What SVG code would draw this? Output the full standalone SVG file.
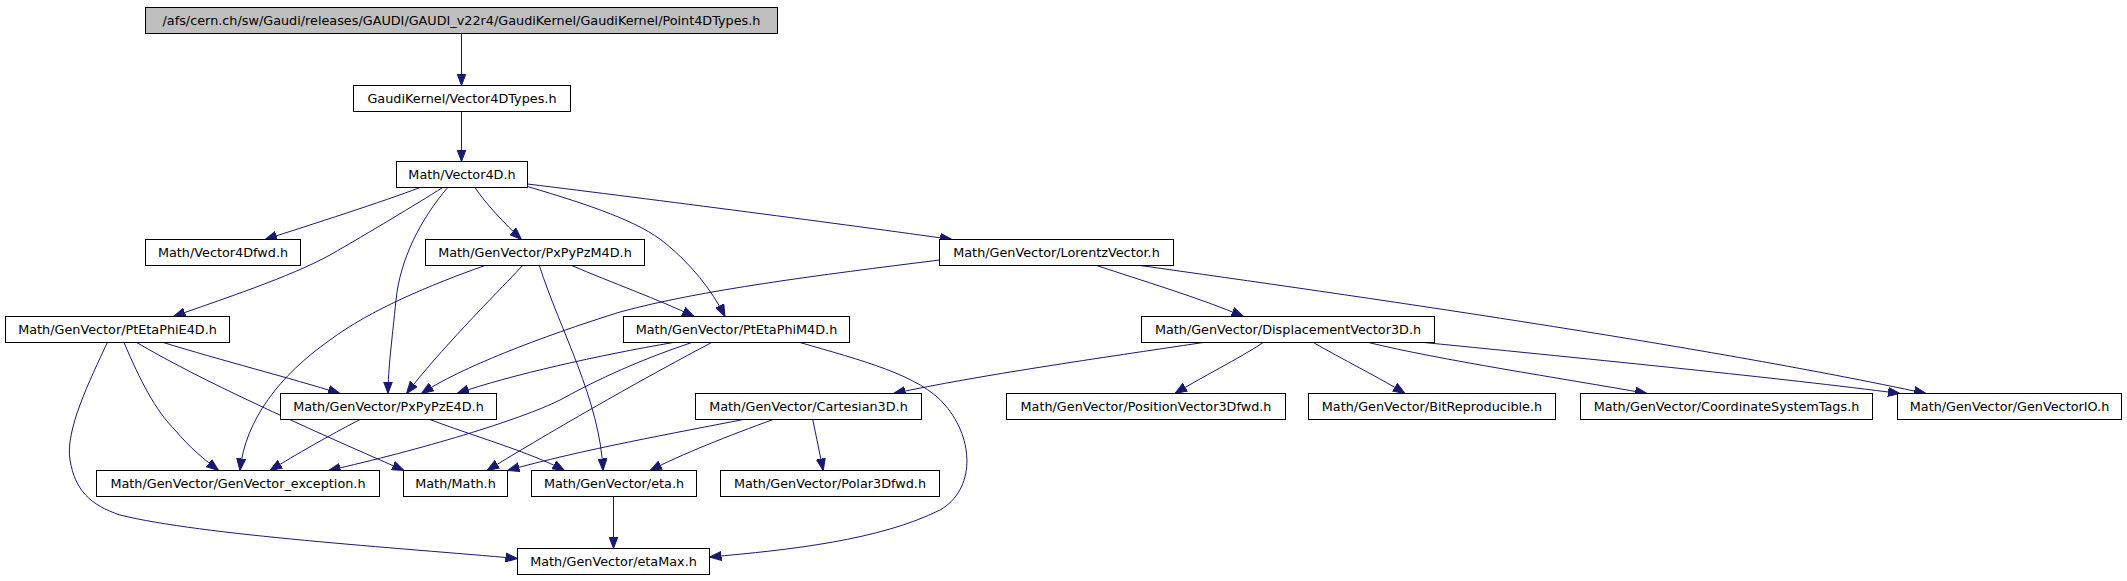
<svg xmlns="http://www.w3.org/2000/svg" width="2127" height="581" viewBox="0 0 2127 581">
<style>
.node rect{fill:#ffffff;stroke:#000000;stroke-width:1}
.node.root rect{fill:#bfbfbf}
.node text{font-family:"DejaVu Sans",sans-serif;font-size:12.8px;text-anchor:middle;fill:#000000}
.edges path{fill:none;stroke:#191970;stroke-width:1;marker-end:url(#arr)}
</style>
<defs>
<marker id="arr" markerUnits="userSpaceOnUse" markerWidth="12" markerHeight="10" viewBox="0 0 12 10" refX="12" refY="5" orient="auto">
<path d="M0,0.5 L12,5 L0,9.5 z" fill="#191970" stroke="#191970" stroke-width="1"/>
</marker>
</defs>
<rect x="0" y="0" width="2127" height="581" fill="#ffffff"/>
<g class="edges">
<path d="M461.5,33.5 L461.5,85.5"/>
<path d="M461.5,111.5 L461.5,161.5"/>
<path d="M420,187.5 C385,201 310,225 265,239.5"/>
<path d="M475,187.5 C485,203 505,224 521.5,239.5"/>
<path d="M527.5,184 C650,199 850,225 952,239.5"/>
<path d="M442.7,187.5 C415,205 370,232 330,255 C290,277 220,300 173.5,316.5"/>
<path d="M527.5,186.5 C590,205 640,222 665,243 C690,263 712,290 725,316.5"/>
<path d="M447.7,187.5 C420,220 400,260 396,300 C392,340 388,370 388,393.5"/>
<path d="M485,265.5 C430,285 370,310 330,340 C280,375 245,420 240,470.5"/>
<path d="M522.7,265.5 C490,300 440,350 406.5,393.5"/>
<path d="M539.3,265.5 C560,330 600,400 603,470.5"/>
<path d="M571.7,265.5 C610,282 660,300 694,316.5"/>
<path d="M939.5,260 C820,275 700,290 620,312 C540,337 460,368 421.5,393.5"/>
<path d="M1096.7,265.5 C1140,280 1200,298 1243.5,316.5"/>
<path d="M1140,265.5 C1350,295 1700,345 1926,393.5"/>
<path d="M107.3,342.5 C90,380 65,430 70,460 C75,490 90,505 120,515 C200,535 400,548 517.5,558.5"/>
<path d="M124,342.5 C140,380 155,410 175,430 C190,448 205,460 218.5,470.5"/>
<path d="M136.7,342.5 C200,380 300,425 404,470.5"/>
<path d="M163.3,342.5 C220,360 290,378 340,393.5"/>
<path d="M673.3,342.5 C600,355 510,375 457,393.5"/>
<path d="M691.7,342.5 C640,360 600,378 560,400 C520,420 420,450 328.5,470.5"/>
<path d="M711.7,342.5 C650,375 570,420 487,470.5"/>
<path d="M800,342.5 C860,360 920,375 945,405 C975,440 975,490 940,510 C880,540 790,550 709.5,557"/>
<path d="M360,419.5 C330,435 295,455 270,470.5"/>
<path d="M430,419.5 C470,435 530,452 564.5,470.5"/>
<path d="M1203.3,342.5 C1100,358 980,375 893.5,393.5"/>
<path d="M1263.3,342.5 C1240,358 1200,378 1175,393.5"/>
<path d="M1313.3,342.5 C1340,358 1380,378 1405,393.5"/>
<path d="M1368.5,342.5 C1440,360 1560,378 1647,393.5"/>
<path d="M1424,342.5 C1600,360 1780,378 1900,393.5"/>
<path d="M743.3,419.5 C680,432 580,450 507.5,470.5"/>
<path d="M773.3,419.5 C730,435 680,455 650,470.5"/>
<path d="M812.7,419.5 C816,435 820,455 823.3,470.5"/>
<path d="M613.5,496.5 L613.5,548.5"/>
</g>
<g id="n_point4dtypes" class="node root"><rect x="145.5" y="7.5" width="632" height="26"/><text x="461.5" y="25">/afs/cern.ch/sw/Gaudi/releases/GAUDI/GAUDI_v22r4/GaudiKernel/GaudiKernel/Point4DTypes.h</text></g>
<g id="n_vector4dtypes" class="node"><rect x="353.5" y="85.5" width="217" height="26"/><text x="462" y="103">GaudiKernel/Vector4DTypes.h</text></g>
<g id="n_vector4d" class="node"><rect x="396.5" y="161.5" width="131" height="26"/><text x="462" y="179">Math/Vector4D.h</text></g>
<g id="n_vector4dfwd" class="node"><rect x="145.5" y="239.5" width="155" height="26"/><text x="223" y="257">Math/Vector4Dfwd.h</text></g>
<g id="n_pxpypzm4d" class="node"><rect x="425.5" y="239.5" width="219" height="26"/><text x="535" y="257">Math/GenVector/PxPyPzM4D.h</text></g>
<g id="n_lorentzvector" class="node"><rect x="939.5" y="239.5" width="234" height="26"/><text x="1056.5" y="257">Math/GenVector/LorentzVector.h</text></g>
<g id="n_ptetaphie4d" class="node"><rect x="5.5" y="316.5" width="224" height="26"/><text x="117.5" y="334">Math/GenVector/PtEtaPhiE4D.h</text></g>
<g id="n_ptetaphim4d" class="node"><rect x="623.5" y="316.5" width="226" height="26"/><text x="736.5" y="334">Math/GenVector/PtEtaPhiM4D.h</text></g>
<g id="n_displacementvector3d" class="node"><rect x="1141.5" y="316.5" width="293" height="26"/><text x="1288" y="334">Math/GenVector/DisplacementVector3D.h</text></g>
<g id="n_pxpypze4d" class="node"><rect x="280.5" y="393.5" width="216" height="26"/><text x="388.5" y="411">Math/GenVector/PxPyPzE4D.h</text></g>
<g id="n_cartesian3d" class="node"><rect x="695.5" y="393.5" width="226" height="26"/><text x="808.5" y="411">Math/GenVector/Cartesian3D.h</text></g>
<g id="n_positionvector3dfwd" class="node"><rect x="1006.5" y="393.5" width="279" height="26"/><text x="1146" y="411">Math/GenVector/PositionVector3Dfwd.h</text></g>
<g id="n_bitreproducible" class="node"><rect x="1308.5" y="393.5" width="247" height="26"/><text x="1432" y="411">Math/GenVector/BitReproducible.h</text></g>
<g id="n_coordinatesystemtags" class="node"><rect x="1580.5" y="393.5" width="292" height="26"/><text x="1726.5" y="411">Math/GenVector/CoordinateSystemTags.h</text></g>
<g id="n_genvectorio" class="node"><rect x="1897.5" y="393.5" width="224" height="26"/><text x="2009.5" y="411">Math/GenVector/GenVectorIO.h</text></g>
<g id="n_genvector_exception" class="node"><rect x="96.5" y="470.5" width="283" height="26"/><text x="238" y="488">Math/GenVector/GenVector_exception.h</text></g>
<g id="n_math" class="node"><rect x="403.5" y="470.5" width="104" height="26"/><text x="455.5" y="488">Math/Math.h</text></g>
<g id="n_eta" class="node"><rect x="531.5" y="470.5" width="165" height="26"/><text x="614" y="488">Math/GenVector/eta.h</text></g>
<g id="n_polar3dfwd" class="node"><rect x="720.5" y="470.5" width="219" height="26"/><text x="830" y="488">Math/GenVector/Polar3Dfwd.h</text></g>
<g id="n_etamax" class="node"><rect x="517.5" y="548.5" width="192" height="26"/><text x="613.5" y="566">Math/GenVector/etaMax.h</text></g>
</svg>
